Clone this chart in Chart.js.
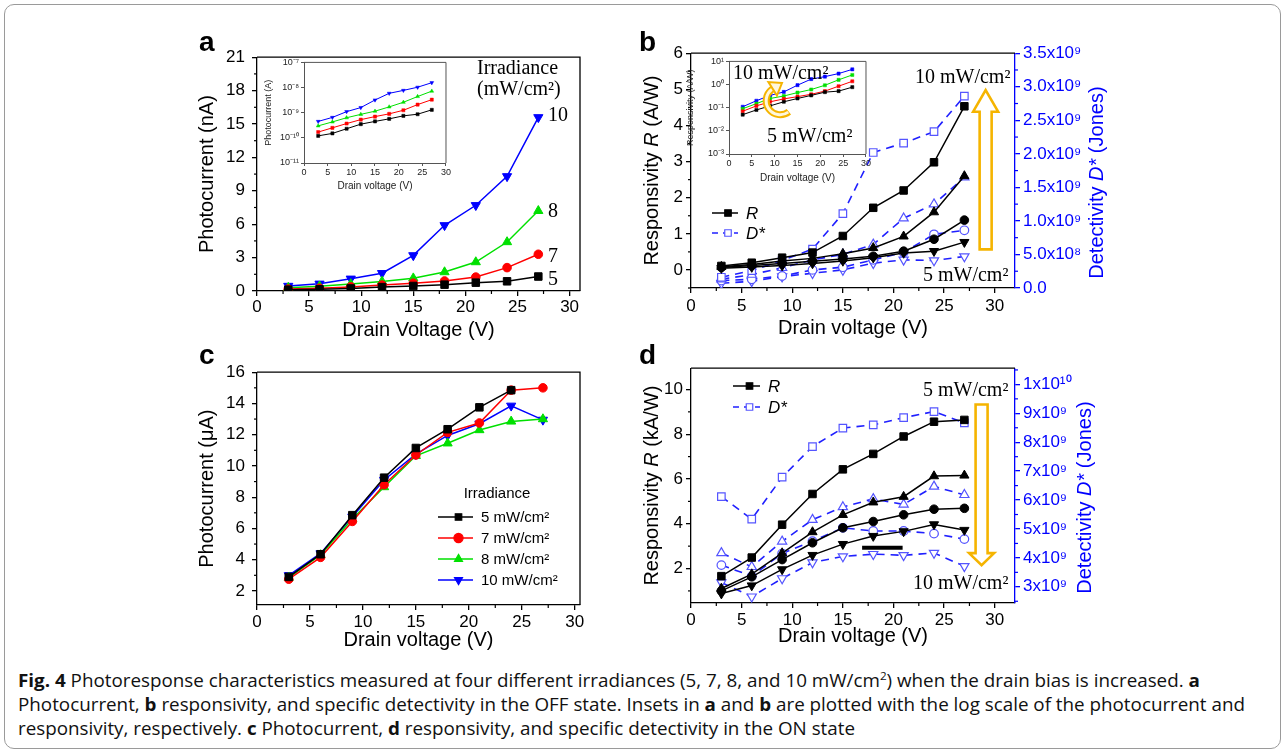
<!DOCTYPE html>
<html>
<head>
<meta charset="utf-8">
<script src="https://cdn.jsdelivr.net/npm/chart.js@4.4.1/dist/chart.umd.min.js"></script>
<style>
  body { margin: 0; width: 1287px; height: 754px; background: #fff; position: relative; overflow: hidden; font-family: "Liberation Sans", Arial, sans-serif; }
  .box { position: absolute; left: 4px; top: 4px; width: 1277px; height: 745px; border: 1px solid #9a9a9a; border-radius: 10px; box-sizing: border-box; }
  canvas { position: absolute; }
  .t { position: absolute; white-space: nowrap; line-height: 1; }
  .panel { font-weight: bold; font-size: 28px; }
  .serif { font-family: "Liberation Serif", "Times New Roman", serif; font-size: 20px; }
  .cap { position: absolute; left: 18px; white-space: nowrap; font-family: "Open Sans", sans-serif; font-size: 18px; line-height: 1; transform-origin: 0 0; color: #111; }
  .cap b { font-weight: 700; }
  .cap sup { font-size: 0.62em; line-height: 0; vertical-align: 0.6em; }
</style>
</head>
<body>
<div class="box"></div>

<canvas id="chartA" width="400" height="305" style="left:190px;top:40px"></canvas>
<canvas id="insetA" width="192" height="140" style="left:260px;top:55px"></canvas>
<canvas id="chartB" width="490" height="305" style="left:630px;top:40px"></canvas>
<canvas id="insetB" width="188" height="140" style="left:684px;top:54px"></canvas>
<canvas id="chartC" width="400" height="305" style="left:190px;top:355px"></canvas>
<canvas id="chartD" width="490" height="305" style="left:630px;top:355px"></canvas>

<div class="t panel" style="left:199px;top:28px">a</div>
<div class="t panel" style="left:639px;top:28px">b</div>
<div class="t panel" style="left:199px;top:341px">c</div>
<div class="t panel" style="left:639px;top:341px">d</div>

<div class="t serif" style="left:477px;top:57px">Irradiance</div>
<div class="t serif" style="left:477px;top:78px">(mW/cm²)</div>
<div class="t serif" style="left:548px;top:104px">10</div>
<div class="t serif" style="left:548px;top:200px">8</div>
<div class="t serif" style="left:548px;top:245px">7</div>
<div class="t serif" style="left:548px;top:268px">5</div>

<div class="t serif" style="left:915px;top:66px">10 mW/cm²</div>
<div class="t serif" style="left:923px;top:264px">5 mW/cm²</div>
<div class="t serif" style="left:733px;top:62px">10 mW/cm²</div>
<div class="t serif" style="left:767px;top:125px">5 mW/cm²</div>

<div class="t serif" style="left:923px;top:379px">5 mW/cm²</div>
<div class="t serif" style="left:913px;top:572px">10 mW/cm²</div>

<div class="cap" style="top:671px"><b>Fig. 4</b> Photoresponse characteristics measured at four different irradiances (5, 7, 8, and 10 mW/cm<sup>2</sup>) when the drain bias is increased. <b>a</b></div>
<div class="cap" style="top:695px">Photocurrent, <b>b</b> responsivity, and specific detectivity in the OFF state. Insets in <b>a</b> and <b>b</b> are plotted with the log scale of the photocurrent and</div>
<div class="cap" style="top:719px">responsivity, respectively. <b>c</b> Photocurrent, <b>d</b> responsivity, and specific detectivity in the ON state</div>

<script>
// drain voltage steps shared by every panel
const voltage = [3, 6, 9, 12, 15, 18, 21, 24, 27];
const xTicks = [0, 5, 10, 15, 20, 25, 30];

// (a) OFF-state photocurrent, nA
const offI5  = [0.12, 0.15, 0.23, 0.35, 0.45, 0.57, 0.75, 0.87, 1.3];
const offI7  = [0.17, 0.25, 0.37, 0.53, 0.7, 0.9, 1.25, 2.1, 3.3];
const offI8  = [0.3, 0.43, 0.63, 0.86, 1.15, 1.7, 2.6, 4.4, 7.2];
const offI10 = [0.45, 0.65, 1.1, 1.6, 3.2, 5.9, 7.7, 10.3, 15.6];
const aTicks = [0, 3, 6, 9, 12, 15, 18, 21];
const aInsetTicks = [0.01, 0.1, 1, 10, 100];            // in nA
const aInsetLabels = ['10⁻¹¹', '10⁻¹⁰', '10⁻⁹', '10⁻⁸', '10⁻⁷']; // in A

// (b) OFF-state responsivity, A/W, and detectivity, Jones
const offR10 = [0.11, 0.2, 0.34, 0.48, 0.94, 1.72, 2.2, 2.98, 4.53];
const offR8  = [0.09, 0.15, 0.25, 0.32, 0.45, 0.61, 0.93, 1.6, 2.6];
const offR7  = [0.07, 0.12, 0.18, 0.24, 0.3, 0.38, 0.52, 0.85, 1.38];
const offR5  = [0.05, 0.08, 0.12, 0.18, 0.25, 0.34, 0.47, 0.52, 0.77];
const offD10 = [0.16e9, 0.26e9, 0.41e9, 0.58e9, 1.11e9, 2.02e9, 2.16e9, 2.33e9, 2.86e9];
const offD8  = [0.13e9, 0.2e9, 0.3e9, 0.42e9, 0.5e9, 0.65e9, 1.04e9, 1.25e9, 1.65e9];
const offD7  = [0.11e9, 0.13e9, 0.18e9, 0.27e9, 0.31e9, 0.42e9, 0.53e9, 0.8e9, 0.86e9];
const offD5  = [0.07e9, 0.1e9, 0.17e9, 0.22e9, 0.27e9, 0.37e9, 0.42e9, 0.41e9, 0.47e9];
const bTicks = [0, 1, 2, 3, 4, 5, 6];
const bRightTicks = [0, 0.5e9, 1e9, 1.5e9, 2e9, 2.5e9, 3e9, 3.5e9];
const bRightLabels = ['0.0', '5.0x10⁸', '1.0x10⁹', '1.5x10⁹', '2.0x10⁹', '2.5x10⁹', '3.0x10⁹', '3.5x10⁹'];
const bInsetTicks = [0.001, 0.01, 0.1, 1, 10];
const bInsetLabels = ['10⁻³', '10⁻²', '10⁻¹', '10⁰', '10¹'];

// (c) ON-state photocurrent, uA
const onI5  = [2.9, 4.35, 6.85, 9.25, 11.15, 12.35, 13.75, 14.85, null];
const onI7  = [2.75, 4.15, 6.45, 8.8, 10.7, 12.15, 12.75, 14.85, 15.0];
const onI8  = [2.85, 4.3, 6.6, 8.65, 10.65, 11.45, 12.3, 12.85, 13.0];
const onI10 = [3.0, 4.4, 6.75, 9.1, 10.75, 11.95, 12.7, 13.85, 12.95];
const cTicks = [2, 4, 6, 8, 10, 12, 14, 16];
const cLegend = ['5 mW/cm²', '7 mW/cm²', '8 mW/cm²', '10 mW/cm²'];

// (d) ON-state responsivity, kA/W, and detectivity, Jones
const onR5  = [1.66, 2.49, 3.96, 5.33, 6.43, 7.12, 7.9, 8.56, 8.64];
const onR7  = [1.11, 1.75, 2.69, 3.63, 4.4, 4.96, 5.21, 6.13, 6.16];
const onR8  = [1.0, 1.63, 2.4, 3.15, 3.82, 4.1, 4.4, 4.65, 4.69];
const onR10 = [0.88, 1.24, 1.96, 2.6, 3.09, 3.45, 3.66, 3.97, 3.72];
const onD5  = [6.12e9, 5.34e9, 6.79e9, 7.85e9, 8.49e9, 8.6e9, 8.85e9, 9.06e9, 8.67e9];
const onD7  = [4.17e9, 3.69e9, 4.57e9, 5.32e9, 5.76e9, 6.04e9, 5.85e9, 6.47e9, 6.18e9];
const onD8  = [3.75e9, 3.37e9, 4.15e9, 4.58e9, 5.04e9, 4.93e9, 4.93e9, 4.84e9, 4.65e9];
const onD10 = [3.15e9, 2.66e9, 3.29e9, 3.84e9, 4.05e9, 4.13e9, 4.09e9, 4.17e9, 3.71e9];
const dTicks = [2, 4, 6, 8, 10];
const dRightTicks = [3e9, 4e9, 5e9, 6e9, 7e9, 8e9, 9e9, 1e10];
const dRightLabels = ['3x10⁹', '4x10⁹', '5x10⁹', '6x10⁹', '7x10⁹', '8x10⁹', '9x10⁹', '1x10¹⁰'];

const SANS = '"Liberation Sans", Arial, sans-serif';
const BLACK = '#000000', RED = '#ff0000', GREEN = '#00e000', BLUE = '#0000ff';
const DBLUE = '#2020ff', OPEN = '#5555ff', ORANGE = '#f5b400';

const pts = (arr) => voltage.map((v, i) => ({ x: v, y: arr[i] }));

function series(arr, color, shape, extra) {
  return Object.assign({
    data: pts(arr),
    borderColor: color, borderWidth: 1.5,
    pointStyle: shape === 'down' ? 'triangle' : shape,
    pointRotation: shape === 'down' ? 180 : 0,
    pointRadius: shape === 'circle' ? 4.3 : 5.3,
    pointBackgroundColor: color, pointBorderColor: color, pointBorderWidth: 1,
    spanGaps: false,
  }, extra || {});
}
function openSeries(arr, shape) {
  return series(arr, DBLUE, shape, {
    yAxisID: 'y2', borderDash: [8, 6], borderWidth: 1.6,
    pointBackgroundColor: '#fff', pointBorderColor: OPEN, pointBorderWidth: 1.2,
  });
}
const small = { pointRadius: 2.2, borderWidth: 1, pointBorderWidth: 0.5 };

function axis(o) {
  const vertical = o.position === 'left' || o.position === 'right';
  const color = o.color || BLACK;
  return {
    type: o.type || 'linear', position: o.position, min: o.min, max: o.max,
    afterBuildTicks: (s) => { s.ticks = o.ticks.map((v) => ({ value: v })); },
    afterFit: (s) => { if (vertical) s.width = o.size; else s.height = o.size; },
    grid: { drawOnChartArea: false, tickLength: o.tickLen || 5, color, lineWidth: o.lw || 1.3 },
    border: { color, width: o.lw || 1.3 },
    ticks: {
      color: o.tickColor || color, padding: o.pad ?? 3, maxRotation: 0, autoSkip: false,
      font: { family: SANS, size: o.fs || 17 },
      callback: o.labels ? (v, i) => o.labels[i] : (v) => String(v),
    },
    title: {
      display: !!o.title, text: o.title, color: o.tickColor || color,
      font: { family: SANS, size: o.tfs || 20 },
      padding: { top: o.tpad || 0, bottom: o.tpad || 0 },
    },
  };
}

function base(padding, scales) {
  return {
    responsive: false, animation: false, devicePixelRatio: 1, events: [],
    layout: { padding },
    scales,
    plugins: { legend: { display: false }, tooltip: { enabled: false } },
  };
}

// top / right border of the plot box
function frame(color, lw, withRight) {
  return {
    id: 'frame',
    beforeDatasetsDraw(chart) {
      const { ctx, chartArea: a } = chart;
      ctx.save();
      ctx.strokeStyle = color; ctx.lineWidth = lw;
      ctx.beginPath();
      ctx.moveTo(a.left, a.top); ctx.lineTo(a.right, a.top);
      if (withRight) ctx.lineTo(a.right, a.bottom);
      ctx.stroke();
      ctx.restore();
    },
  };
}

// small outward ticks between the labelled ones
function minorTicks(steps) {
  return {
    id: 'minorTicks',
    afterDraw(chart) {
      const ctx = chart.ctx;
      Object.keys(steps).forEach((id) => {
        const s = chart.scales[id], step = steps[id];
        const major = s.ticks.map((t) => t.value);
        ctx.save();
        ctx.strokeStyle = s.options.border.color; ctx.lineWidth = 1.2;
        for (let k = Math.ceil(s.min / step - 1e-6); k * step <= s.max + step * 1e-6; k++) {
          const v = k * step;
          if (major.some((m) => Math.abs(m - v) < step * 1e-3)) continue;
          const p = s.getPixelForValue(v);
          ctx.beginPath();
          if (s.position === 'left') { ctx.moveTo(s.right, p); ctx.lineTo(s.right - 3, p); }
          else if (s.position === 'right') { ctx.moveTo(s.left, p); ctx.lineTo(s.left + 3, p); }
          else { ctx.moveTo(p, s.top); ctx.lineTo(p, s.top + 3); }
          ctx.stroke();
        }
        ctx.restore();
      });
    },
  };
}

// rotated (bottom-to-top) axis title with an italic symbol in it
function sideTitle(x, dy, parts, color) {
  return {
    id: 'sideTitle',
    afterDraw(chart) {
      const { ctx, chartArea: a } = chart;
      const fonts = parts.map((p) => (p[1] ? 'italic ' : '') + '20px ' + SANS);
      ctx.save();
      let total = 0;
      const widths = parts.map((p, i) => { ctx.font = fonts[i]; const w = ctx.measureText(p[0]).width; total += w; return w; });
      ctx.translate(x, (a.top + a.bottom) / 2 + dy);
      ctx.rotate(-Math.PI / 2);
      ctx.fillStyle = color; ctx.textBaseline = 'middle';
      let cx = -total / 2;
      parts.forEach((p, i) => { ctx.font = fonts[i]; ctx.fillText(p[0], cx, 0); cx += widths[i]; });
      ctx.restore();
    },
  };
}

const whiteBox = {
  id: 'whiteBox',
  beforeDraw(chart) {
    const { ctx, chartArea: a } = chart;
    ctx.save(); ctx.fillStyle = '#fff';
    ctx.fillRect(a.left, a.top, a.right - a.left, a.bottom - a.top);
    ctx.restore();
  },
};

function marker(ctx, shape, x, y, r, fill, stroke) {
  ctx.beginPath();
  if (shape === 'rect') {
    const h = r * Math.SQRT1_2;
    ctx.rect(x - h, y - h, 2 * h, 2 * h);
  } else if (shape === 'circle') {
    ctx.arc(x, y, r, 0, Math.PI * 2);
  } else {
    const s = shape === 'down' ? -1 : 1;
    ctx.moveTo(x, y - s * r);
    ctx.lineTo(x + r * 0.866, y + s * r * 0.5);
    ctx.lineTo(x - r * 0.866, y + s * r * 0.5);
    ctx.closePath();
  }
  ctx.fillStyle = fill; ctx.fill();
  ctx.lineWidth = 1.2; ctx.strokeStyle = stroke; ctx.stroke();
}

function legendRow(ctx, x0, x1, y, shape, color, dash, fill, stroke, label, font) {
  ctx.save();
  ctx.strokeStyle = color; ctx.lineWidth = 1.5; ctx.setLineDash(dash);
  ctx.beginPath(); ctx.moveTo(x0, y); ctx.lineTo(x1, y); ctx.stroke();
  ctx.setLineDash([]);
  marker(ctx, shape, (x0 + x1) / 2 + 3, y, 4.6, fill, stroke);
  ctx.fillStyle = '#000'; ctx.font = font; ctx.textBaseline = 'middle';
  ctx.fillText(label, x1 + 8, y + 1);
  ctx.restore();
}

function hollowArrow(ctx, cx, yTail, yBase, yTip, bw, hw) {
  ctx.save();
  ctx.beginPath();
  ctx.moveTo(cx - bw, yTail); ctx.lineTo(cx - bw, yBase); ctx.lineTo(cx - hw, yBase);
  ctx.lineTo(cx, yTip); ctx.lineTo(cx + hw, yBase); ctx.lineTo(cx + bw, yBase);
  ctx.lineTo(cx + bw, yTail); ctx.closePath();
  ctx.fillStyle = '#fff'; ctx.fill();
  ctx.strokeStyle = ORANGE; ctx.lineWidth = 2.6; ctx.lineJoin = 'miter'; ctx.stroke();
  ctx.restore();
}

// ---- (a) ----
new Chart(document.getElementById('chartA'), {
  type: 'line',
  data: { datasets: [
    series(offI5, BLACK, 'rect'), series(offI7, RED, 'circle'),
    series(offI8, GREEN, 'triangle'), series(offI10, BLUE, 'down'),
  ] },
  options: base({ left: 0, right: 10, top: 12, bottom: 0 }, {
    x: axis({ position: 'bottom', min: 0, max: 31, ticks: xTicks, size: 54, pad: 1, title: 'Drain Voltage (V)', tpad: 3 }),
    y: axis({ position: 'left', min: 0, max: 21, ticks: aTicks, size: 67, pad: 7, title: 'Photocurrent (nA)', tpad: 5 }),
  }),
  plugins: [frame(BLACK, 1.3, true), minorTicks({ x: 2.5, y: 1.5 })],
});

new Chart(document.getElementById('insetA'), {
  type: 'line',
  data: { datasets: [
    series(offI5, BLACK, 'rect', small), series(offI7, RED, 'rect', small),
    series(offI8, GREEN, 'triangle', small), series(offI10, BLUE, 'down', small),
  ] },
  options: base({ left: 0, right: 6, top: 6, bottom: 0 }, {
    x: axis({ position: 'bottom', min: 0, max: 30, ticks: xTicks, size: 32, fs: 9, tfs: 10, pad: 1, tickLen: 3, lw: 1,
      color: '#555', tickColor: '#222', title: 'Drain voltage (V)', tpad: 3 }),
    y: axis({ type: 'logarithmic', position: 'left', min: 0.01, max: 100, ticks: aInsetTicks, labels: aInsetLabels,
      size: 44, fs: 9, tfs: 9, pad: 2, tickLen: 3, lw: 1, color: '#555', tickColor: '#222', title: 'Photocurrent (A)', tpad: 3 }),
  }),
  plugins: [whiteBox, frame('#555', 1, true)],
});

// ---- (b) ----
new Chart(document.getElementById('chartB'), {
  type: 'line',
  data: { datasets: [
    series(offR10, BLACK, 'rect'), series(offR8, BLACK, 'triangle'),
    series(offR7, BLACK, 'circle'), series(offR5, BLACK, 'down'),
    openSeries(offD10, 'rect'), openSeries(offD8, 'triangle'),
    openSeries(offD7, 'circle'), openSeries(offD5, 'down'),
  ] },
  options: base({ left: 0, right: 0, top: 13, bottom: 0 }, {
    x: axis({ position: 'bottom', min: 0, max: 32, ticks: xTicks, size: 57, pad: 3, title: 'Drain voltage (V)', tpad: 5 }),
    y: axis({ position: 'left', min: -0.5, max: 6, ticks: bTicks, size: 61, pad: 3 }),
    y2: axis({ position: 'right', min: 0, max: 3.5e9, ticks: bRightTicks, labels: bRightLabels, size: 105, pad: 3, color: BLUE }),
  }),
  plugins: [frame(BLACK, 1.3, false), minorTicks({ x: 2.5, y: 0.5, y2: 0.25e9 }),
    sideTitle(22, 0, [['Responsivity ', false], ['R', true], [' (A/W)', false]], BLACK),
    sideTitle(467, 12, [['Detectivity ', false], ['D*', true], [' (Jones)', false]], BLUE), {
    id: 'bNotes',
    afterDraw(chart) {
      const { ctx, scales: { x, y } } = chart;
      hollowArrow(ctx, x.getPixelForValue(29.1), y.getPixelForValue(0.57), y.getPixelForValue(4.38), y.getPixelForValue(4.98), 6, 12.5);
      const italic = 'italic 17px ' + SANS;
      legendRow(ctx, 82, 108, 173, 'rect', BLACK, [], BLACK, BLACK, 'R', italic);
      legendRow(ctx, 82, 108, 193, 'rect', DBLUE, [6, 5], '#fff', OPEN, 'D*', italic);
    },
  }],
});

new Chart(document.getElementById('insetB'), {
  type: 'line',
  data: { datasets: [
    series(offR5, BLACK, 'rect', small), series(offR7, RED, 'rect', small),
    series(offR8, GREEN, 'rect', small), series(offR10, BLUE, 'rect', small),
  ] },
  options: base({ left: 0, right: 6, top: 6, bottom: 0 }, {
    x: axis({ position: 'bottom', min: 0, max: 30, ticks: xTicks, size: 40, fs: 9, tfs: 10, pad: 1, tickLen: 3, lw: 1,
      color: '#555', tickColor: '#222', title: 'Drain voltage (V)', tpad: 10 }),
    y: axis({ type: 'logarithmic', position: 'left', min: 0.001, max: 10, ticks: bInsetTicks, labels: bInsetLabels,
      size: 45, fs: 9, tfs: 9, pad: 2, tickLen: 3, lw: 1, color: '#555', tickColor: '#222', title: 'Responsivity (A/W)', tpad: 1 }),
  }),
  plugins: [whiteBox, frame('#555', 1, true), {
    id: 'curlArrow',
    afterDraw(chart) {
      const { ctx, scales: { x, y } } = chart;
      const cx = x.getPixelForValue(11.2), cy = y.getPixelForValue(0.2), r = 14;
      const a0 = 0.9, a1 = 4.15;
      ctx.save();
      ctx.strokeStyle = ORANGE; ctx.lineWidth = 7;
      ctx.beginPath(); ctx.arc(cx, cy, r, a0, a1); ctx.stroke();
      ctx.strokeStyle = '#fff7dc'; ctx.lineWidth = 3;
      ctx.beginPath(); ctx.arc(cx, cy, r, a0 + 0.05, a1 + 0.02); ctx.stroke();
      const hx = cx + r * Math.cos(a1), hy = cy + r * Math.sin(a1);
      const tx = -Math.sin(a1), ty = Math.cos(a1), nx = Math.cos(a1), ny = Math.sin(a1);
      ctx.beginPath();
      ctx.moveTo(hx + tx * 11, hy + ty * 11);
      ctx.lineTo(hx + nx * 8, hy + ny * 8);
      ctx.lineTo(hx - nx * 8, hy - ny * 8);
      ctx.closePath();
      ctx.fillStyle = '#fff7dc'; ctx.fill();
      ctx.strokeStyle = ORANGE; ctx.lineWidth = 2; ctx.stroke();
      ctx.restore();
    },
  }],
});

// ---- (c) ----
const cStyles = [[BLACK, 'rect'], [RED, 'circle'], [GREEN, 'triangle'], [BLUE, 'down']];
new Chart(document.getElementById('chartC'), {
  type: 'line',
  data: { datasets: [onI5, onI7, onI8, onI10].map((arr, i) => series(arr, cStyles[i][0], cStyles[i][1])) },
  options: base({ left: 0, right: 10, top: 12, bottom: 0 }, {
    x: axis({ position: 'bottom', min: 0, max: 30.5, ticks: xTicks, size: 55, pad: 2, title: 'Drain voltage (V)', tpad: 8 }),
    y: axis({ position: 'left', min: 1.1, max: 16, ticks: cTicks, size: 67, pad: 7, title: 'Photocurrent (\u03bcA)', tpad: 5 }),
  }),
  plugins: [frame(BLACK, 1.3, true), minorTicks({ x: 2.5, y: 1 }), {
    id: 'cLegend',
    afterDraw(chart) {
      const ctx = chart.ctx;
      ctx.save();
      ctx.font = '15px ' + SANS; ctx.fillStyle = '#000'; ctx.textAlign = 'center'; ctx.textBaseline = 'middle';
      ctx.fillText('Irradiance', 307, 139);
      ctx.restore();
      cLegend.forEach((label, i) => {
        legendRow(ctx, 248, 283, 162 + i * 21, cStyles[i][1], cStyles[i][0], [], cStyles[i][0], cStyles[i][0], label, '15px ' + SANS);
      });
    },
  }],
});

// ---- (d) ----
new Chart(document.getElementById('chartD'), {
  type: 'line',
  data: { datasets: [
    series(onR5, BLACK, 'rect'), series(onR7, BLACK, 'triangle'),
    series(onR8, BLACK, 'circle'), series(onR10, BLACK, 'down'),
    openSeries(onD5, 'rect'), openSeries(onD7, 'triangle'),
    openSeries(onD8, 'circle'), openSeries(onD10, 'down'),
  ] },
  options: base({ left: 0, right: 0, top: 12, bottom: 0 }, {
    x: axis({ position: 'bottom', min: 0, max: 32, ticks: xTicks, size: 57, pad: 2, title: 'Drain voltage (V)', tpad: 12 }),
    y: axis({ position: 'left', min: 0.46, max: 10.95, ticks: dTicks, size: 61, pad: 3 }),
    y2: axis({ position: 'right', min: 2.44e9, max: 10.56e9, ticks: dRightTicks, labels: dRightLabels, size: 105, pad: 3, color: BLUE }),
  }),
  plugins: [frame(BLACK, 1.3, false), minorTicks({ x: 2.5, y: 1, y2: 0.5e9 }),
    sideTitle(22, 0, [['Responsivity ', false], ['R', true], [' (kA/W)', false]], BLACK),
    sideTitle(455, 12, [['Detectivity ', false], ['D*', true], [' (Jones)', false]], BLUE), {
    id: 'dNotes',
    afterDraw(chart) {
      const { ctx, scales: { x, y } } = chart;
      hollowArrow(ctx, x.getPixelForValue(28.7), y.getPixelForValue(9.33), y.getPixelForValue(2.69), y.getPixelForValue(2.15), 6, 12.5);
      // short black bar left in the original plot
      ctx.save();
      ctx.strokeStyle = '#000'; ctx.lineWidth = 4;
      ctx.beginPath(); ctx.moveTo(x.getPixelForValue(16.9), y.getPixelForValue(2.93));
      ctx.lineTo(x.getPixelForValue(20.9), y.getPixelForValue(2.93)); ctx.stroke();
      ctx.restore();
      const italic = 'italic 17px ' + SANS;
      legendRow(ctx, 103, 130, 31, 'rect', BLACK, [], BLACK, BLACK, 'R', italic);
      legendRow(ctx, 103, 130, 52, 'rect', DBLUE, [6, 5], '#fff', OPEN, 'D*', italic);
    },
  }],
});

// stretch the caption lines so the second line ends where it does in the figure
const capLines = document.querySelectorAll('.cap');
const k = 1227 / capLines[1].getBoundingClientRect().width;
capLines.forEach((el) => { el.style.transform = 'scaleX(' + k.toFixed(4) + ')'; });
</script>
</body>
</html>
